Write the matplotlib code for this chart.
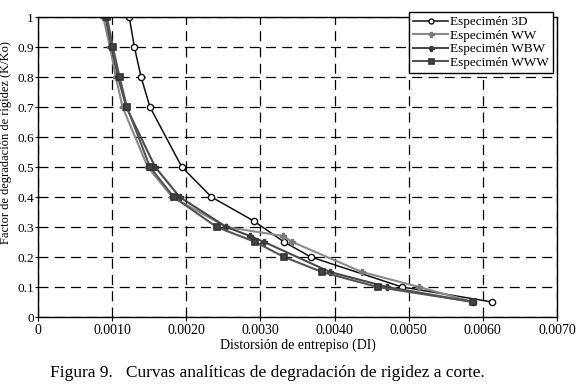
import matplotlib
matplotlib.use('Agg')
import matplotlib.pyplot as plt
from matplotlib.ticker import FixedLocator

# datos
y_3d = [1.0, 0.9, 0.8, 0.7, 0.5, 0.4, 0.32, 0.25, 0.2, 0.1, 0.05]
x_3d = [0.00123, 0.00130, 0.00139, 0.00151, 0.00194, 0.00234, 0.00291, 0.00332, 0.00368, 0.00491, 0.00613]

y_ww = [1.0, 0.9, 0.8, 0.7, 0.5, 0.4, 0.3, 0.27, 0.25, 0.15, 0.1, 0.05]
x_ww = [0.00088, 0.00097, 0.00105, 0.00114, 0.00148, 0.00181, 0.00254, 0.00331, 0.00343, 0.00437, 0.00514, 0.00587]

y_wbw = [1.0, 0.9, 0.8, 0.7, 0.5, 0.4, 0.3, 0.27, 0.25, 0.15, 0.1, 0.05]
x_wbw = [0.00091, 0.00099, 0.00108, 0.00119, 0.00158, 0.00191, 0.00254, 0.00286, 0.00305, 0.00394, 0.00471, 0.00587]

y_www = [1.0, 0.9, 0.8, 0.7, 0.5, 0.4, 0.3, 0.25, 0.2, 0.15, 0.1, 0.05]
x_www = [0.00093, 0.00101, 0.00110, 0.00120, 0.00151, 0.00183, 0.00241, 0.00293, 0.00332, 0.00383, 0.00458, 0.00587]

x_ticks = [0, 0.001, 0.002, 0.003, 0.004, 0.005, 0.006, 0.007]
x_labels = ['0', '0.0010', '0.0020', '0.0030', '0.0040', '0.0050', '0.0060', '0.0070']
y_ticks = [0, 0.1, 0.2, 0.3, 0.4, 0.5, 0.6, 0.7, 0.8, 0.9, 1]
y_labels = ['0', '0.1', '0.2', '0.3', '0.4', '0.5', '0.6', '0.7', '0.8', '0.9', '1']

plt.rcParams['font.family'] = ['Liberation Serif', 'DejaVu Serif']

fig = plt.figure(figsize=(5.79, 3.90), dpi=100)
ax = fig.add_axes([38/579, 1 - 317/390, (557 - 38)/579, (317 - 17)/390])

ax.plot(x_3d, y_3d, color='#111111', lw=1.1, marker='o', ms=4.5,
        mfc='white', mec='#111111', mew=1.0, label='Especimén 3D')
ax.plot(x_ww, y_ww, color='#8a8a8a', lw=1.5, marker='P', ms=4.5,
        mfc='#7a7a7a', mec='#7a7a7a', label='Especimén WW')
ax.plot(x_wbw, y_wbw, color='#4a4a4a', lw=1.5, marker='P', ms=4.5,
        mfc='#3a3a3a', mec='#3a3a3a', label='Especimén WBW')
ax.plot(x_www, y_www, color='#555555', lw=1.5, marker='s', ms=4.5,
        mfc='#444444', mec='#333333', mew=1.2, label='Especimén WWW')

ax.set_xlim(0, 0.007)
ax.set_ylim(0, 1)
ax.xaxis.set_major_locator(FixedLocator(x_ticks))
ax.yaxis.set_major_locator(FixedLocator(y_ticks))
ax.set_xticklabels(x_labels)
ax.set_yticklabels(y_labels)
ax.tick_params(axis='x', labelsize=10, length=3, width=0.8, direction='out', pad=2)
ax.tick_params(axis='y', labelsize=9.5, length=2, width=0.8, direction='out', pad=1)
ax.grid(True, color='black', linestyle=(0, (8, 5)), linewidth=0.9)
for s in ax.spines.values():
    s.set_linewidth(1.0)

ax.set_xlabel('Distorsión de entrepiso (DI)', fontsize=10, labelpad=1)
ax.set_ylabel('Factor de degradación de rigidez (K/Ko)', fontsize=9)
ax.yaxis.set_label_coords(-0.05, 0.58)

leg = ax.legend(loc='upper right', bbox_to_anchor=(553/579, 1 - 12/390),
                bbox_transform=fig.transFigure, fontsize=9.5, handlelength=2.6,
                handletextpad=0.2, borderpad=0.3, labelspacing=0.1,
                markerscale=0.8, frameon=True, fancybox=False, framealpha=1,
                borderaxespad=0)
leg.get_frame().set_edgecolor('black')
leg.get_frame().set_linewidth(1.0)

fig.text(50/579, 1 - 373/390, 'Figura 9.   Curvas analíticas de degradación de rigidez a corte.',
         fontsize=12.5, ha='left', va='center')

fig.savefig('out.png', dpi=100)
